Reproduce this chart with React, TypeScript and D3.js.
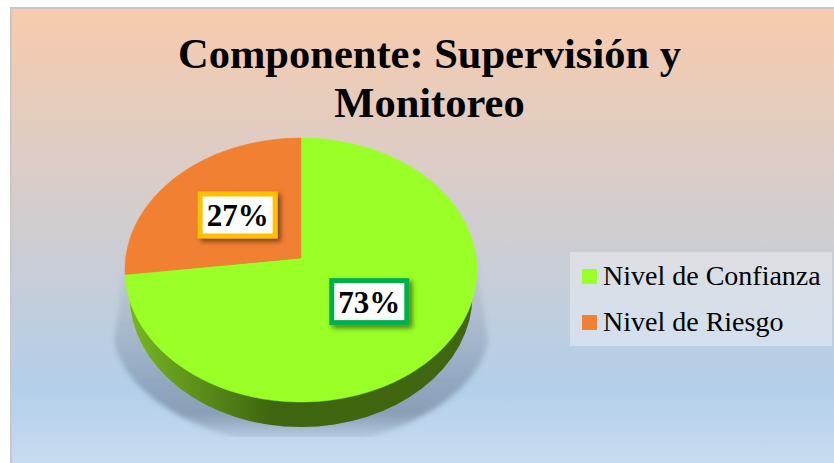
import React from 'react';
import * as d3 from 'd3';

const title = ['Componente: Supervisión y', 'Monitoreo'];
const categories = ['Nivel de Confianza', 'Nivel de Riesgo'];
const values = [73, 27];
const colors = ['#99ff26', '#f28033'];
const labelBorders = ['#00b050', '#ffc000'];

const W = 834;
const H = 463;
const serif = '"Liberation Serif", "Times New Roman", serif';

// tilted pie: unit circle (u, v) pushed through a small perspective
const cx = 301;
const cy = 258;
const rx = 175.3;
const ry = 130.9;
const persp = -0.0909;
const project = (u: number, v: number): [number, number] => {
  const k = 1 + persp * v;
  return [cx + (rx * u) / k, cy + (ry * v) / k];
};

const pie = d3.pie<number>().sort(null).value(d => d);
const slices = pie(values);
const arc = d3.arc<d3.PieArcDatum<number>>().innerRadius(0).outerRadius(1);
const line = d3.line();

function slicePath(start: number, end: number) {
  const n = Math.max(2, Math.ceil((end - start) * 40));
  const pts: [number, number][] = [project(0, 0)];
  for (let i = 0; i <= n; i++) {
    const a = start + ((end - start) * i) / n;
    pts.push(project(Math.sin(a), -Math.cos(a)));
  }
  return line(pts) + 'Z';
}

const App = () => {
  const legendY = d3.scalePoint<string>().domain(categories).range([276.5, 322.5]);

  return (
    <svg width={W} height={H} style={{ position: 'absolute', left: 0, top: 0, display: 'block' }}>
      <defs>
        <linearGradient id="bg" x1="0" y1="0" x2="0" y2="1">
          <stop offset="0" stopColor="#f8cbad" />
          <stop offset="0.82" stopColor="#b3cfea" />
          <stop offset="1" stopColor="#c9ddf0" />
        </linearGradient>
        <linearGradient id="side" gradientUnits="userSpaceOnUse" x1="125" y1="0" x2="477" y2="0">
          <stop offset="0" stopColor="#7ab825" />
          <stop offset="0.42" stopColor="#3e6510" />
          <stop offset="1" stopColor="#41680f" />
        </linearGradient>
        <linearGradient id="shadow" gradientUnits="userSpaceOnUse" x1="0" y1="245" x2="0" y2="437">
          <stop offset="0" stopColor="#5b6b80" stopOpacity="0" />
          <stop offset="0.45" stopColor="#5b6b80" stopOpacity="0.22" />
          <stop offset="0.88" stopColor="#5b6b80" stopOpacity="0.5" />
          <stop offset="1" stopColor="#5b6b80" stopOpacity="0.12" />
        </linearGradient>
        <filter id="blur" x="-10%" y="-10%" width="120%" height="120%">
          <feGaussianBlur stdDeviation="2.5" />
        </filter>
        <filter id="labelShadow" x="-20%" y="-20%" width="150%" height="150%">
          <feDropShadow dx="3" dy="3" stdDeviation="2.5" floodColor="#000" floodOpacity="0.5" />
        </filter>
        <clipPath id="shadowClip">
          <rect x={0} y={0} width={W} height={437} />
        </clipPath>
      </defs>

      {/* chart area */}
      <rect x={11} y={8} width={W} height={H} fill="url(#bg)" stroke="#c8c8c8" strokeWidth={2} />

      {/* title */}
      {title.map((t, i) => (
        <text key={t} x={429.5} y={68 + i * 49} textAnchor="middle" fontFamily={serif} fontWeight="bold" fontSize={42.5} fill="#000">
          {t}
        </text>
      ))}

      {/* shadow under the pie */}
      <g clipPath="url(#shadowClip)">
        <path
          d="M126,255 L114,340 C124,400 215,446 301,446 C387,446 478,400 488,340 L476,255 Z"
          fill="url(#shadow)"
          filter="url(#blur)"
        />
      </g>

      {/* pie wall */}
      <ellipse cx={cx} cy={295} rx={171.5} ry={132} fill="url(#side)" />

      {/* pie top */}
      {slices.map((s, i) => (
        <path key={categories[i]} d={slicePath(s.startAngle, s.endAngle)} fill={colors[i]} stroke={colors[i]} strokeWidth={0.5} />
      ))}

      {/* data labels */}
      {slices.map((s, i) => {
        const [u, v] = arc.centroid(s);
        const [x, y] = project(u, v);
        return (
          <g key={values[i]} transform={`translate(${x},${y - 1})`}>
            <rect x={-37} y={-21} width={75} height={42} fill="#fff" stroke={labelBorders[i]} strokeWidth={5} filter="url(#labelShadow)" />
            <text x={0.5} y={11} textAnchor="middle" fontFamily={serif} fontWeight="bold" fontSize={31} fill="#000">
              {d3.format('.0%')(values[i] / 100)}
            </text>
          </g>
        );
      })}

      {/* legend */}
      <rect x={570} y={252} width={262} height={94} fill="#fff" fillOpacity={0.35} />
      {categories.map((c, i) => (
        <g key={c} transform={`translate(0,${legendY(c)})`}>
          <rect x={582} y={-7.5} width={15} height={15} fill={colors[i]} />
          <text x={603} y={8.5} fontFamily={serif} fontSize={28} fill="#000">
            {c}
          </text>
        </g>
      ))}
    </svg>
  );
};

export default App;
